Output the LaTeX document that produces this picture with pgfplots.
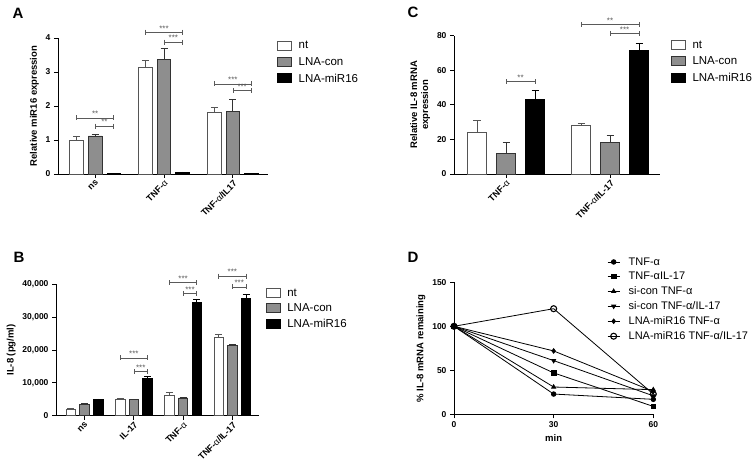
\documentclass[border=0pt]{standalone}
\usepackage{fontspec}
\setmainfont{Liberation Sans}
\usepackage{pgfplots}
\pgfplotsset{compat=1.18}
\definecolor{conGray}{HTML}{8E8E8E}
\definecolor{ntEdge}{HTML}{555555}
\definecolor{brkcol}{HTML}{5A5A5A}
\newcommand{\alf}{{\normalfont α}}
\newcommand{\brk}[4]{%
  \draw[brkcol, line width=0.7pt] (axis cs:#1,#3) -- (axis cs:#2,#3);
  \draw[brkcol, line width=0.7pt] ([yshift=2.5pt]axis cs:#1,#3) -- ([yshift=-2.5pt]axis cs:#1,#3);
  \draw[brkcol, line width=0.7pt] ([yshift=2.5pt]axis cs:#2,#3) -- ([yshift=-2.5pt]axis cs:#2,#3);
  \node[above, inner sep=1pt, font=\fontsize{8}{8}\selectfont, text=brkcol] at (axis cs:{(#1+#2)/2},#3) {#4};
}
\pgfplotsset{
  gp/.style={
    scale only axis, axis lines*=left, clip=false,
    axis line style={line width=0.9pt, black},
    every tick/.style={black, line width=0.9pt},
    tick align=outside, major tick length=4pt,
    /pgf/number format/assume math mode=true,
    ticklabel style={font=\fontsize{8.5}{10}\selectfont\bfseries},
    xticklabel style={font=\fontsize{9}{10}\selectfont\bfseries},
    label style={font=\fontsize{9.5}{11}\selectfont\bfseries},
    legend style={draw=none, fill=none, font=\fontsize{11.5}{13}\selectfont, inner sep=0pt, anchor=north west},
    legend cell align=left,
  },
  barleg/.style={legend image code/.code={\draw[##1,/tikz/.cd,yshift=-4pt] (0pt,0pt) rectangle (14pt,9pt); \path[draw=none, fill=none] (0pt,0pt) -- (19pt,0pt);}},
  ntb/.style={fill=white, draw=ntEdge, line width=0.8pt,
    /pgfplots/error bars/y dir=plus, /pgfplots/error bars/y explicit,
    /pgfplots/error bars/error bar style={line width=0.8pt, ntEdge},
    /pgfplots/error bars/error mark options={rotate=90, mark size=3.5pt, line width=0.8pt, ntEdge}},
  conb/.style={fill=conGray, draw=black!80, line width=0.8pt,
    /pgfplots/error bars/y dir=plus, /pgfplots/error bars/y explicit,
    /pgfplots/error bars/error bar style={line width=0.8pt, black!80},
    /pgfplots/error bars/error mark options={rotate=90, mark size=3.5pt, line width=0.8pt, black!80}},
  mirb/.style={fill=black, draw=black, line width=0.8pt,
    /pgfplots/error bars/y dir=plus, /pgfplots/error bars/y explicit,
    /pgfplots/error bars/error bar style={line width=0.8pt, black},
    /pgfplots/error bars/error mark options={rotate=90, mark size=3.5pt, line width=0.8pt, black}},
  dline/.style={black, line width=0.8pt, mark size=2.3pt, mark options={solid, fill=black}},
}
\begin{document}
\begin{tikzpicture}
% Panel labels
\node[font=\fontsize{15}{15}\selectfont\bfseries] at (18pt,457pt) {A};
\node[font=\fontsize{15}{15}\selectfont\bfseries] at (413pt,458pt) {C};
\node[font=\fontsize{15}{15}\selectfont\bfseries] at (19pt,212.5pt) {B};
\node[font=\fontsize{15}{15}\selectfont\bfseries] at (413pt,212.5pt) {D};

% Panel A  (groups at 0,1,2; bars at -0.27, 0, +0.27)
\begin{axis}[gp, barleg, at={(58pt,296pt)}, anchor=south west,
  width=210pt, height=136pt,
  xmin=-0.54, xmax=2.51, ymin=0, ymax=4,
  xtick={0,1,2}, xticklabels={ns, TNF-\alf, TNF-\alf/IL17},
  xticklabel style={rotate=45, anchor=north east, inner sep=1pt},
  ytick={0,1,2,3,4},
  ylabel={Relative miR16 expression},
  legend style={at={(1.043,0.99)}, row sep=3pt},
]
\addplot[ybar, bar width=0.196, bar shift=0, ntb] coordinates {(-0.27,1.00) +- (0,0.10) (0.73,3.13) +- (0,0.20) (1.73,1.82) +- (0,0.13)};
\addplot[ybar, bar width=0.196, bar shift=0, conb] coordinates {(0,1.12) +- (0,0.05) (1,3.37) +- (0,0.33) (2,1.84) +- (0,0.35)};
\addplot[ybar, bar width=0.196, bar shift=0, mirb] coordinates {(0.27,0.02) +- (0,0.005) (1.27,0.05) +- (0,0.01) (2.27,0.02) +- (0,0.005)};
\legend{nt, LNA-con, LNA-miR16}
\brk{-0.27}{0.27}{1.65}{**}
\brk{0}{0.27}{1.41}{**}
\brk{0.73}{1.27}{4.17}{***}
\brk{1}{1.27}{3.88}{***}
\brk{1.73}{2.27}{2.65}{***}
\brk{2}{2.27}{2.45}{***}
\end{axis}

% Panel C
\begin{axis}[gp, barleg, at={(454pt,296pt)}, anchor=south west,
  width=206pt, height=138.3pt,
  xmin=-0.5, xmax=1.48, ymin=0, ymax=80,
  xtick={0,1}, xticklabels={TNF-\alf, TNF-\alf/IL-17},
  xticklabel style={rotate=45, anchor=north east, inner sep=1pt},
  ytick={0,20,40,60,80},
  ylabel={Relative IL-8 mRNA\\expression}, ylabel style={align=center},
  legend style={at={(1.053,0.98)}, row sep=3pt},
]
\addplot[ybar, bar width=0.183, bar shift=0, ntb] coordinates {(-0.279,24.3) +- (0,6.5) (0.721,28.0) +- (0,1.0)};
\addplot[ybar, bar width=0.183, bar shift=0, conb] coordinates {(0,11.8) +- (0,6.5) (1,18.0) +- (0,4.5)};
\addplot[ybar, bar width=0.183, bar shift=0, mirb] coordinates {(0.279,43.3) +- (0,5.0) (1.279,71.3) +- (0,4.5)};
\legend{nt, LNA-con, LNA-miR16}
\brk{0}{0.279}{53.4}{**}
\brk{0.721}{1.279}{86.6}{**}
\brk{1}{1.279}{81.4}{***}
\end{axis}

% Panel B
\begin{axis}[gp, barleg, at={(56pt,54.3pt)}, anchor=south west,
  width=203pt, height=131.4pt,
  xmin=-0.58, xmax=3.54, ymin=0, ymax=40000,
  xtick={0,1,2,3}, xticklabels={ns, IL-17, TNF-\alf, TNF-\alf/IL-17},
  xticklabel style={rotate=45, anchor=north east, inner sep=1pt},
  ytick={0,10000,20000,30000,40000},
  scaled y ticks=false,
  yticklabel style={/pgf/number format/1000 sep={,}},
  ylabel={IL-8 (pg/ml)},
  legend style={at={(1.033,0.98)}, row sep=2pt},
]
\addplot[ybar, bar width=0.193, bar shift=0, ntb] coordinates {(-0.278,2000) +- (0,100) (0.722,5100) +- (0,100) (1.722,6100) +- (0,1000) (2.722,23900) +- (0,1000)};
\addplot[ybar, bar width=0.193, bar shift=0, conb] coordinates {(0,3500) +- (0,150) (1,4900) +- (0,100) (2,5400) +- (0,150) (3,21300) +- (0,500)};
\addplot[ybar, bar width=0.193, bar shift=0, mirb] coordinates {(0.278,4900) +- (0,200) (1.278,11300) +- (0,700) (2.278,34500) +- (0,900) (3.278,35700) +- (0,1200)};
\legend{nt, LNA-con, LNA-miR16}
\brk{0.722}{1.278}{17600}{***}
\brk{1}{1.278}{13400}{***}
\brk{1.722}{2.278}{40500}{***}
\brk{2}{2.278}{37200}{***}
\brk{2.722}{3.278}{42500}{***}
\brk{3}{3.278}{39200}{***}
\end{axis}

% Panel D
\begin{axis}[gp, at={(454pt,55.7pt)}, anchor=south west,
  width=199.3pt, height=132pt,
  xmin=0, xmax=60, ymin=0, ymax=150,
  xtick={0,30,60}, ytick={0,50,100,150},
  xticklabel style={font=\fontsize{8.5}{10}\selectfont\bfseries},
  xlabel={min}, ylabel={\% IL-8 mRNA remaining},
  legend style={at={(0.768,1.205)}, row sep=1.5pt, font=\fontsize{11}{12.5}\selectfont},
  legend image code/.code={\draw[mark repeat=2,mark phase=2,#1] plot coordinates {(0pt,0pt) (6pt,0pt) (12pt,0pt)}; \path[draw=none, fill=none] (0pt,0pt) -- (19pt,0pt);},
]
\addplot[dline, mark=*] coordinates {(0,100) (30,23) (60,17)};
\addplot[dline, mark=square*] coordinates {(0,100) (30,47) (60,9)};
\addplot[dline, mark=triangle*] coordinates {(0,100) (30,31) (60,28)};
\addplot[dline, mark=triangle*, mark options={solid, fill=black, rotate=180}] coordinates {(0,100) (30,61) (60,21)};
\addplot[dline, mark=diamond*] coordinates {(0,100) (30,72) (60,26)};
\addplot[dline, mark=o, mark size=3pt, mark options={solid, fill=white, line width=1.1pt}] coordinates {(0,100) (30,120) (60,23)};
\legend{TNF-\alf, TNF-\alf IL-17, si-con TNF-\alf, si-con TNF-\alf/IL-17, LNA-miR16 TNF-\alf, LNA-miR16 TNF-\alf/IL-17}
\end{axis}

\pgfresetboundingbox
\useasboundingbox (0,0) rectangle (754pt,470pt);
\end{tikzpicture}
\end{document}
